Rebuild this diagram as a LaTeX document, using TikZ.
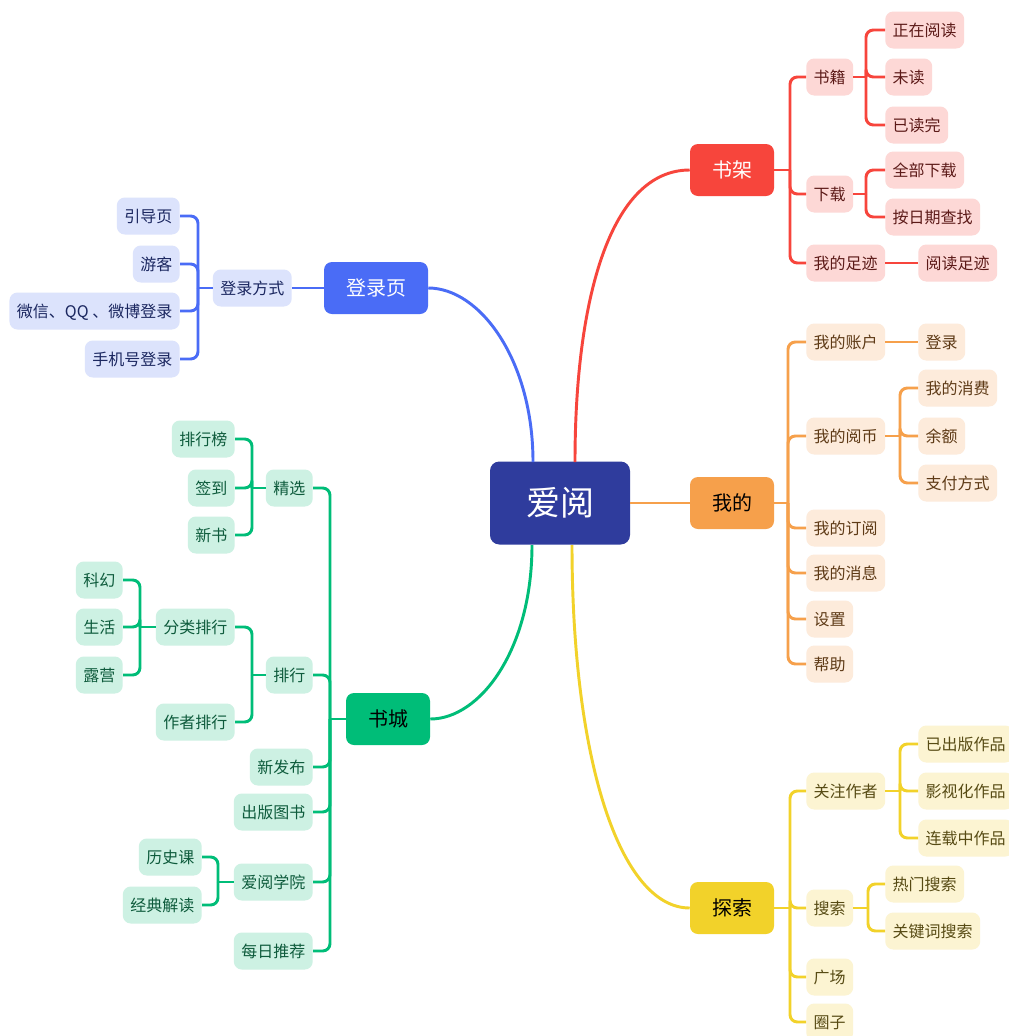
\documentclass[tikz,border=0pt]{standalone}
\usepackage{fontspec}
\setmainfont{Noto Sans CJK SC}
\usetikzlibrary{calc}
\definecolor{redM}{HTML}{F7453C}\definecolor{redL}{HTML}{FDD8D6}\definecolor{redT}{HTML}{5C1A18}
\definecolor{blueM}{HTML}{4A6CF6}\definecolor{blueL}{HTML}{DCE3FC}\definecolor{blueT}{HTML}{1B2760}
\definecolor{oraM}{HTML}{F6A04B}\definecolor{oraL}{HTML}{FDEBDB}\definecolor{oraT}{HTML}{5E3A16}
\definecolor{grnM}{HTML}{00BD78}\definecolor{grnL}{HTML}{CDF1E3}\definecolor{grnT}{HTML}{0E5B3C}
\definecolor{yelM}{HTML}{F2D22A}\definecolor{yelL}{HTML}{FCF4D2}\definecolor{yelT}{HTML}{574B14}
\definecolor{rootC}{HTML}{2F3C9D}
\begin{document}
\begin{tikzpicture}[x=0.75pt,y=-0.75pt,
  box/.style={rounded corners=6pt, inner xsep=5.6pt, inner ysep=0pt, minimum height=27.75pt,
    text height=10.56pt, text depth=1.44pt, font=\fontsize{12}{12}\selectfont},
  mainbox/.style={rounded corners=6pt, inner xsep=16.5pt, inner ysep=0pt, minimum height=39pt,
    text height=13.2pt, text depth=1.8pt, font=\fontsize{15}{15}\selectfont},
  sred/.style={box, fill=redL, text=redT},
  sblue/.style={box, fill=blueL, text=blueT},
  sora/.style={box, fill=oraL, text=oraT},
  sgrn/.style={box, fill=grnL, text=grnT},
  syel/.style={box, fill=yelL, text=yelT},
  lred/.style={draw=redM, line width=2.2pt, rounded corners=5.5pt},
  lblue/.style={draw=blueM, line width=2.2pt, rounded corners=5.5pt},
  lora/.style={draw=oraM, line width=2.2pt, rounded corners=5.5pt},
  lgrn/.style={draw=grnM, line width=2.2pt, rounded corners=5.5pt},
  lyel/.style={draw=yelM, line width=2.2pt, rounded corners=5.5pt},
  sharpline/.style={rounded corners=0pt}
]
\useasboundingbox (0,0) rectangle (1008,1036);
\fill[white] (0,0) rectangle (1008,1036);

% ---------- main curve ends on the root ----------
\coordinate (rTopR) at (575,462);
\coordinate (rTopL) at (533,462);
\coordinate (rBotL) at (532,545);
\coordinate (rBotR) at (572,545);

% ---------- nodes ----------
\node[rounded corners=7pt, fill=rootC, text=white, minimum width=105pt, minimum height=62.25pt,
  inner ysep=0pt, text height=22.44pt, text depth=3.06pt,
  font=\fontsize{25.5}{25.5}\selectfont] (root) at (560,503) {爱阅};

\node[mainbox, fill=redM, text=white] (shujia) at (732,170) {书架};
\node[mainbox, fill=blueM, text=white] (denglu) at (376,288) {登录页};
\node[mainbox, fill=oraM, text=black] (wode) at (732,503) {我的};
\node[mainbox, fill=grnM, text=black] (shucheng) at (388,719) {书城};
\node[mainbox, fill=yelM, text=black] (tansuo) at (732,908) {探索};

\draw[redM, line width=2.2pt] (rTopR) .. controls (575,300) and (610,170) .. (shujia.west);
\draw[blueM, line width=2.2pt] (rTopL) .. controls (533,360) and (480,288) .. (denglu.east);
\draw[oraM, line width=2.2pt] (root.east) -- (wode.west);
\draw[grnM, line width=2.2pt] (rBotL) .. controls (532,650) and (480,719) .. (shucheng.east);
\draw[yelM, line width=2.2pt] (rBotR) .. controls (572,760) and (620,908) .. (tansuo.west);

% ---------- red branch ----------
\node[sred, anchor=west] (a1) at (806,77) {书籍};
\node[sred, anchor=west] (a11) at (885,30) {正在阅读};
\node[sred, anchor=west] (a12) at (885,77) {未读};
\node[sred, anchor=west] (a13) at (885,125) {已读完};
\node[sred, anchor=west] (a2) at (806,194) {下载};
\node[sred, anchor=west] (a21) at (885,170) {全部下载};
\node[sred, anchor=west] (a22) at (885,217) {按日期查找};
\node[sred, anchor=west] (a3) at (806,263) {我的足迹};
\node[sred, anchor=west] (a31) at (918,263) {阅读足迹};
\coordinate (jA) at (790,170);
\coordinate (jA1) at (866,77);
\coordinate (jA2) at (866,194);
\draw[lred, sharpline] (shujia.east) -- (jA);
\foreach \c in {a1,a2,a3} \draw[lred] (jA) |- (\c.west);
\draw[lred, sharpline] (a1.east) -- (jA1);
\foreach \c in {a11,a12,a13} \draw[lred] (jA1) |- (\c.west);
\draw[lred, sharpline] (a2.east) -- (jA2);
\foreach \c in {a21,a22} \draw[lred] (jA2) |- (\c.west);
\draw[lred] (a3.east) -- (a31.west);

% ---------- blue branch ----------
\node[sblue, anchor=east] (b1) at (292,288) {登录方式};
\node[sblue, anchor=east] (b11) at (180,216) {引导页};
\node[sblue, anchor=east] (b12) at (180,264) {游客};
\node[sblue, anchor=east] (b13) at (180,311) {微信、QQ 、微博登录};
\node[sblue, anchor=east] (b14) at (180,359) {手机号登录};
\coordinate (jB1) at (198,288);
\draw[lblue] (denglu.west) -- (b1.east);
\draw[lblue, sharpline] (b1.west) -- (jB1);
\foreach \c in {b11,b12,b13,b14} \draw[lblue] (jB1) |- (\c.east);

% ---------- orange branch ----------
\node[sora, anchor=west] (c1) at (806,342) {我的账户};
\node[sora, anchor=west] (c11) at (918,342) {登录};
\node[sora, anchor=west] (c2) at (806,436) {我的阅币};
\node[sora, anchor=west] (c21) at (918,388) {我的消费};
\node[sora, anchor=west] (c22) at (918,436) {余额};
\node[sora, anchor=west] (c23) at (918,483) {支付方式};
\node[sora, anchor=west] (c3) at (806,528) {我的订阅};
\node[sora, anchor=west] (c4) at (806,573) {我的消息};
\node[sora, anchor=west] (c5) at (806,619) {设置};
\node[sora, anchor=west] (c6) at (806,664) {帮助};
\coordinate (jC) at (788,503);
\coordinate (jC2) at (900,436);
\draw[lora, sharpline] (wode.east) -- (jC);
\foreach \c in {c1,c2,c3,c4,c5,c6} \draw[lora] (jC) |- (\c.west);
\draw[lora] (c1.east) -- (c11.west);
\draw[lora, sharpline] (c2.east) -- (jC2);
\foreach \c in {c21,c22,c23} \draw[lora] (jC2) |- (\c.west);

% ---------- green branch ----------
\node[sgrn, anchor=east] (d1) at (313,488) {精选};
\node[sgrn, anchor=east] (d11) at (235,439) {排行榜};
\node[sgrn, anchor=east] (d12) at (235,488) {签到};
\node[sgrn, anchor=east] (d13) at (235,535) {新书};
\node[sgrn, anchor=east] (d2) at (313,675) {排行};
\node[sgrn, anchor=east] (d21) at (235,627) {分类排行};
\node[sgrn, anchor=east] (d211) at (123,580) {科幻};
\node[sgrn, anchor=east] (d212) at (123,627) {生活};
\node[sgrn, anchor=east] (d213) at (123,675) {露营};
\node[sgrn, anchor=east] (d22) at (235,722) {作者排行};
\node[sgrn, anchor=east] (d3) at (313,767) {新发布};
\node[sgrn, anchor=east] (d4) at (313,812) {出版图书};
\node[sgrn, anchor=east] (d5) at (313,882) {爱阅学院};
\node[sgrn, anchor=east] (d51) at (202,857) {历史课};
\node[sgrn, anchor=east] (d52) at (202,905) {经典解读};
\node[sgrn, anchor=east] (d6) at (313,951) {每日推荐};
\coordinate (jD) at (330,719);
\coordinate (jD1) at (252,488);
\coordinate (jD2) at (252,675);
\coordinate (jD21) at (140,627);
\coordinate (jD5) at (218,882);
\draw[lgrn, sharpline] (shucheng.west) -- (jD);
\foreach \c in {d1,d2,d3,d4,d5,d6} \draw[lgrn] (jD) |- (\c.east);
\draw[lgrn, sharpline] (d1.west) -- (jD1);
\foreach \c in {d11,d12,d13} \draw[lgrn] (jD1) |- (\c.east);
\draw[lgrn, sharpline] (d2.west) -- (jD2);
\foreach \c in {d21,d22} \draw[lgrn] (jD2) |- (\c.east);
\draw[lgrn, sharpline] (d21.west) -- (jD21);
\foreach \c in {d211,d212,d213} \draw[lgrn] (jD21) |- (\c.east);
\draw[lgrn, sharpline] (d5.west) -- (jD5);
\foreach \c in {d51,d52} \draw[lgrn] (jD5) |- (\c.east);

% ---------- yellow branch ----------
\node[syel, anchor=west] (e1) at (806,791) {关注作者};
\node[syel, anchor=west] (e11) at (918,744) {已出版作品};
\node[syel, anchor=west] (e12) at (918,791) {影视化作品};
\node[syel, anchor=west] (e13) at (918,838) {连载中作品};
\node[syel, anchor=west] (e2) at (806,908) {搜索};
\node[syel, anchor=west] (e21) at (885,884) {热门搜索};
\node[syel, anchor=west] (e22) at (885,931) {关键词搜索};
\node[syel, anchor=west] (e3) at (806,977) {广场};
\node[syel, anchor=west] (e4) at (806,1022) {圈子};
\coordinate (jE) at (790,908);
\coordinate (jE1) at (900,791);
\coordinate (jE2) at (868,908);
\draw[lyel, sharpline] (tansuo.east) -- (jE);
\foreach \c in {e1,e2,e3,e4} \draw[lyel] (jE) |- (\c.west);
\draw[lyel, sharpline] (e1.east) -- (jE1);
\foreach \c in {e11,e12,e13} \draw[lyel] (jE1) |- (\c.west);
\draw[lyel, sharpline] (e2.east) -- (jE2);
\foreach \c in {e21,e22} \draw[lyel] (jE2) |- (\c.west);
\end{tikzpicture}
\end{document}
